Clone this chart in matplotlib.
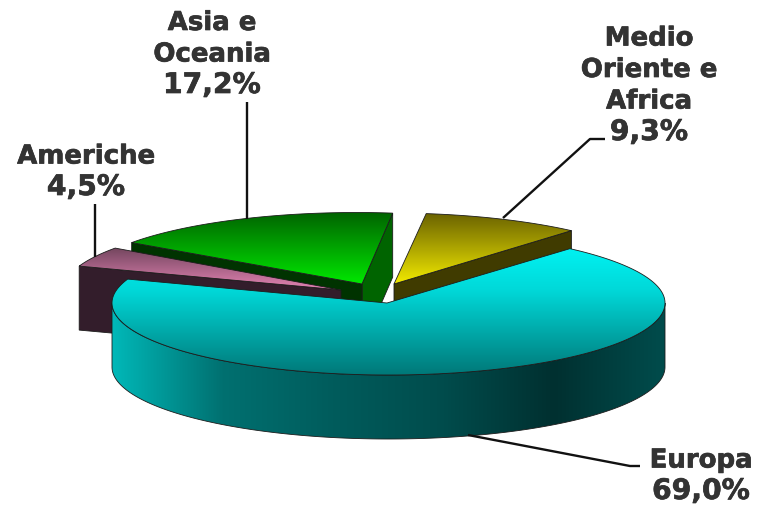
#!/usr/bin/env python3
import numpy as np
import matplotlib
matplotlib.use('Agg')
import matplotlib.pyplot as plt
import matplotlib.patheffects as pe
from matplotlib.colors import LinearSegmentedColormap
from matplotlib.patches import Polygon

# data
names = ['Europa', 'Americhe', 'Asia e\nOceania', 'Medio\nOriente e\nAfrica']
shares = [69.0, 4.5, 17.2, 9.3]

# layout of the tilted pie, in pixels
A, B = 276.5, 72
DEPTH = 64
START = 49
arc_centers = [(388.5, 304), (340, 291), (356.5, 285.5), (390, 286)]
apexes = [(387, 304), (341, 291), (362, 285), (394, 285)]

LINE = '#1c1c1c'
TEXT = '#333333'
LINE_STEP = 31.5


def arc(center, t0, t1, n=200):
    t = np.radians(np.linspace(t0, t1, n))
    return np.column_stack([center[0] + A * np.cos(t), center[1] - B * np.sin(t)])


def fill(ax, pts, colors, vertical=True, zorder=1):
    """Polygon with a linear gradient, drawn as a clipped image"""
    pts = np.asarray(pts)
    x0, x1 = pts[:, 0].min(), pts[:, 0].max()
    y0, y1 = pts[:, 1].min(), pts[:, 1].max()
    cmap = LinearSegmentedColormap.from_list('g', colors)
    g = np.linspace(0, 1, 256)
    g = g[:, None] if vertical else g[None, :]
    patch = Polygon(pts, closed=True, transform=ax.transData, fc='none', ec='none')
    ax.add_patch(patch)
    im = ax.imshow(g, cmap=cmap, extent=(x0, x1, y1, y0), aspect='auto',
                   vmin=0, vmax=1, zorder=zorder, interpolation='bilinear')
    im.set_clip_path(patch)
    ax.add_patch(Polygon(pts, closed=True, fc='none', ec=LINE, lw=0.6, zorder=zorder + 0.1))


def flat(ax, pts, color, zorder=1):
    ax.add_patch(Polygon(pts, closed=True, fc=color, ec=LINE, lw=0.6, zorder=zorder))


def down(pts):
    return np.asarray(pts) + [0, DEPTH]


# slice angles run clockwise from START
ends = START - np.cumsum(np.array(shares) * 3.6)
starts = np.r_[START, ends[:-1]]

fig = plt.figure(figsize=(7.58, 5.06), dpi=100)
ax = fig.add_axes([0, 0, 1, 1])

# Asia e Oceania
t0, t1 = starts[2], ends[2]
top = arc(arc_centers[2], t0, t1)
ap = np.array(apexes[2])
flat(ax, [ap, top[-1], down(top[-1]), down(ap)], '#006400', zorder=1)
flat(ax, [ap, top[0], down(top[0]), down(ap)], '#003300', zorder=1.2)
fill(ax, np.vstack([[ap], top]), ['#006300', '#00e800'], zorder=1.4)

# Medio Oriente e Africa
t0, t1 = starts[3], ends[3]
top = arc(arc_centers[3], t0, t1)
ap = np.array(apexes[3])
flat(ax, [ap, top[-1], down(top[-1]), down(ap)], '#403b00', zorder=1.2)
fill(ax, np.vstack([[ap], top]), ['#6a6200', '#f2ea00'], zorder=1.4)

# Americhe
t0, t1 = starts[1], ends[1]
top = arc(arc_centers[1], t0, t1)
ap = np.array(apexes[1])
flat(ax, [ap, top[0], down(top[0]), down(ap)], '#331d2b', zorder=2)
fill(ax, np.vstack([[ap], top]), ['#74465f', '#e484b4'], zorder=2.2)

# Europa
c = arc_centers[0]
top = arc(c, starts[0], ends[0], 400)
ap = np.array(apexes[0])
upper = arc(c, 0, -180, 300)
side = np.vstack([upper, down(upper)[::-1]])
fill(ax, side, ['#00b8b8', '#007070', '#005c5c', '#004c4c', '#003030', '#004c4c'],
     vertical=False, zorder=3)
fill(ax, np.vstack([[ap], top]), ['#00f2f2', '#00d8d8', '#00a8a8', '#007878'], zorder=3.2)

# leader lines
leaders_x = [[468, 630, 640], [95, 95], [247, 247], [503, 590, 605]]
leaders_y = [[436, 467, 467], [258, 205], [220, 103], [219, 140, 140]]
for xs, ys in zip(leaders_x, leaders_y):
    ax.plot(xs, ys, color='#111111', lw=1.7, zorder=4, solid_capstyle='butt')

# labels, one text per line: the share line sits lowest and is set a bit larger
label_x = [701, 86, 212, 649]
share_baseline = [500, 196, 94, 141]
for name, share, x, y in zip(names, shares, label_x, share_baseline):
    rows = name.split('\n') + [f'{share:.1f}'.replace('.', ',') + '%']
    for i, row in enumerate(rows):
        is_share = i == len(rows) - 1
        t = ax.text(x, y - (len(rows) - 1 - i) * LINE_STEP, row, ha='center', va='baseline',
                    color=TEXT, fontsize=20.3 if is_share else 18.7, fontweight='bold',
                    family='DejaVu Sans', zorder=5)
        t.set_path_effects([pe.withStroke(linewidth=0.5, foreground=TEXT)])

ax.set_xlim(0, 758)
ax.set_ylim(506, 0)
ax.axis('off')
fig.savefig('out.png', dpi=100, facecolor='white')
